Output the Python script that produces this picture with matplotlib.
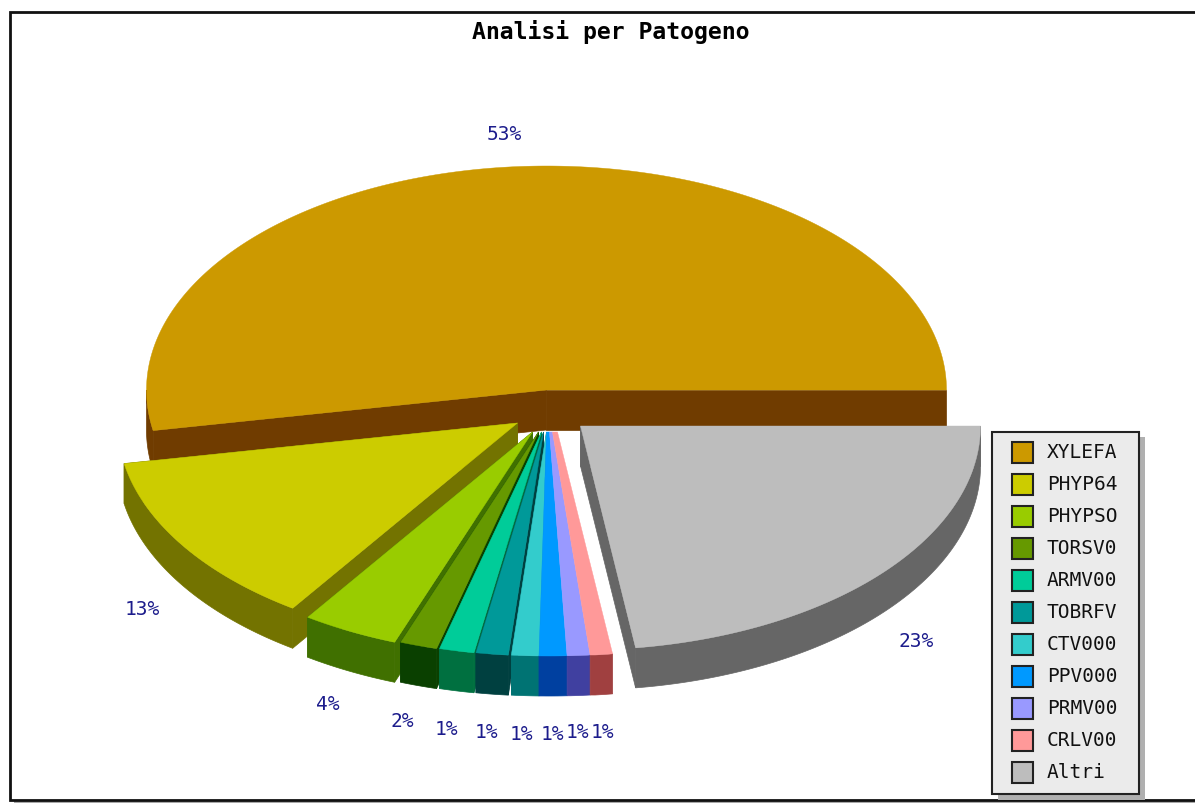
"""3D exploded pie of analyses per pathogen, drawn with plain polygons."""
import numpy as np
import matplotlib

matplotlib.use("Agg")
import matplotlib.pyplot as plt
from matplotlib.patches import Polygon, Rectangle

TITLE = "Analisi per Patogeno"
names = ["XYLEFA", "PHYP64", "PHYPSO", "TORSV0", "ARMV00", "TOBRFV",
         "CTV000", "PPV000", "PRMV00", "CRLV00", "Altri"]
shares = [52.9, 12.6, 3.9, 1.5, 1.4, 1.3, 1.1, 1.0, 0.8, 0.7, 22.8]

top_colors = ["#cc9900", "#cccc00", "#99cc00", "#669900", "#00cc99", "#009999",
              "#33cccc", "#0099ff", "#9999ff", "#ff9999", "#bdbdbd"]
side_colors = ["#703c00", "#737300", "#407000", "#0a4000", "#007040", "#004040",
               "#007373", "#0040a0", "#4040a0", "#a04040", "#666666"]

# how far each slice is pulled away from the pie centre, in pixels
explode_dx = [0, -29, -14, -8, -5, -3, 0, 3, 6, 11, 34]
explode_dy = [0, 33, 42, 42, 42, 42, 42, 42, 42, 42, 36]

label_x = [504, 142, 328, 402, 446, 486, 521, 552, 577, 602, 916]
label_y = [135, 610, 705, 722, 730, 733, 735, 735, 733, 733, 642]

# back slices first, the ones nearest the viewer last
draw_order = [0, 10, 1, 2, 3, 4, 5, 6, 7, 8, 9]
# narrow slices right of centre butt against their neighbour, no wall shows
joined_slices = [7, 8, 9]

CX, CY = 546.5, 391
RX, RY = 400, 224
DEPTH = 40

TEXT_FONT = "DejaVu Sans Mono"
LABEL_BLUE = "#1c1c8c"


def arc(cx, cy, a0, a1):
    """Points along the ellipse; angles grow counter-clockwise on screen."""
    t = np.radians(np.linspace(a0, a1, max(int(a1 - a0) * 3, 2)))
    return np.column_stack([cx + RX * np.cos(t), cy - RY * np.sin(t)])


def draw_slice(ax, cx, cy, a0, a1, top, side, neighbour=None):
    down = np.array([0, DEPTH])
    apex = np.array([[cx, cy]])
    outer = arc(cx, cy, a0, a1)
    rim = arc(cx, cy, max(a0, 180), a1) if a1 > 180 else None
    lead = apex
    if neighbour is None:
        # the two radial walls
        for end in (outer[:1], outer[-1:]):
            wall = np.vstack([apex, end, end + down, apex + down])
            ax.add_patch(Polygon(wall, closed=True, fc=side, ec=side, lw=0.5))
    else:
        # start from the neighbour's edge so the two faces share a border
        lead = np.array([neighbour])
        shared = arc(neighbour[0], neighbour[1], a0, a1)[:1]
        outer = np.vstack([shared, outer])
        rim = np.vstack([shared, rim])
    # outer rim, only the part that faces the viewer
    if rim is not None:
        ax.add_patch(Polygon(np.vstack([rim, rim[::-1] + down]), closed=True,
                             fc=side, ec=side, lw=0.5))
    ax.add_patch(Polygon(np.vstack([lead, outer, apex]), closed=True,
                         fc=top, ec=top, lw=0.3))


fig = plt.figure(figsize=(11.95, 8.04), dpi=100)
ax = fig.add_axes([0, 0, 1, 1])
ax.set_xlim(0, 1195)
ax.set_ylim(804, 0)
ax.axis("off")

# outer frame with its drop shadow
ax.add_patch(Rectangle((14, 15), 1182, 788.5, fc="#a8a8a8", ec="none"))
ax.add_patch(Rectangle((10.5, 12.5), 1190, 788, fc="white", ec="#111111", lw=2))

ax.text(610.5, 32, TITLE, ha="center", va="center", family=TEXT_FONT,
        fontsize=16.7, fontweight="bold", color="black")

edges = np.concatenate([[0], np.cumsum(shares)]) / np.sum(shares) * 360
for i in draw_order:
    neighbour = None
    if i in joined_slices:
        neighbour = (CX + explode_dx[i - 1], CY + explode_dy[i - 1])
    draw_slice(ax, CX + explode_dx[i], CY + explode_dy[i], edges[i], edges[i + 1],
               top_colors[i], side_colors[i], neighbour)

for x, y, share in zip(label_x, label_y, shares):
    ax.text(x, y, f"{share:.0f}%", ha="center", va="center", family=TEXT_FONT,
            fontsize=14, color=LABEL_BLUE)

# legend box
ax.add_patch(Rectangle((998, 438), 147, 363, fc="#b0b0b0", ec="none"))
ax.add_patch(Rectangle((992.5, 432.5), 146.5, 362.5, fc="#ebebeb", ec="#222222", lw=1.5))
for i, (name, color) in enumerate(zip(names, top_colors)):
    y = 453 + 32 * i
    ax.add_patch(Rectangle((1012.5, y - 10), 20.5, 20.5, fc=color, ec="#222222", lw=1.5))
    ax.text(1047, y, name, ha="left", va="center", family=TEXT_FONT,
            fontsize=14, color="#111111")

fig.savefig("out.png", dpi=100)
plt.close(fig)
